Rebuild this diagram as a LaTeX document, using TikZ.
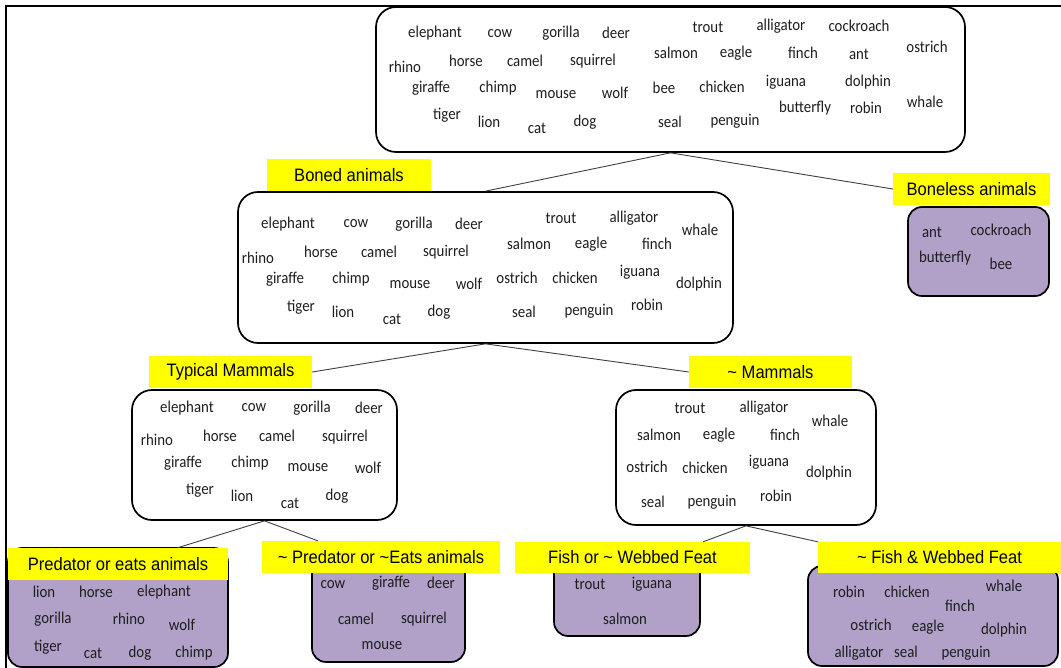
\documentclass[tikz,border=0pt]{standalone}
\usepackage{fontspec}
\setmainfont{Carlito}
\newfontfamily\wordfont[FakeStretch=0.9]{Carlito}
\newfontfamily\labfont[FakeStretch=0.92]{Liberation Sans}
\usetikzlibrary{calc}
\definecolor{tagyellow}{HTML}{FFFF00}
\definecolor{leafpurple}{HTML}{B1A0C7}
\definecolor{wordgrey}{HTML}{1E1E1E}
\newcommand\wordset[2]{%
  \foreach \x/\y/\w in {#2} {\node[word] (#1-\w) at (\x,\y) {\w};}}
\begin{document}
\begin{tikzpicture}[x=1pt,y=-1pt,
  word/.style={inner sep=0pt,text=wordgrey,font=\wordfont\fontsize{16.5}{19}\selectfont},
  group/.style={draw=black,line width=1.7pt,rounded corners=20pt,inner sep=0pt,fill=white},
  leaf/.style={draw=black,line width=1.7pt,rounded corners=14pt,inner sep=0pt,fill=leafpurple},
  tag/.style={fill=tagyellow,inner sep=0pt,minimum height=32pt,text=black,
    font=\labfont\fontsize{18}{21}\selectfont},
  link/.style={draw=black!75,line width=0.9pt}]
\useasboundingbox (0,0) rectangle (1061,668);
\fill[white] (0,0) rectangle (1061,668);
% outer frame, top and left edges only
\draw[line width=2pt] (6,668) -- (6,6) -- (1061,6);

% ---- group boxes ----
\node[group,minimum width=589pt,minimum height=145pt] (all) at (670.5,79.5) {};
\node[group,minimum width=495pt,minimum height=151pt] (boned) at (485.5,267.5) {};
\node[leaf,minimum width=141pt,minimum height=89pt] (boneless) at (978.5,251.5) {};
\node[group,minimum width=265pt,minimum height=130pt] (typ) at (264.5,455) {};
\node[group,minimum width=260pt,minimum height=135pt] (nm) at (746,457.5) {};
\node[leaf,minimum width=220pt,minimum height=119pt] (pred) at (118,607.5) {};
\node[leaf,minimum width=153pt,minimum height=102pt] (npred) at (388.5,611) {};
\node[leaf,minimum width=146pt,minimum height=76pt] (fish) at (627,598) {};
\node[leaf,minimum width=250pt,minimum height=100pt] (nfish) at (933,616) {};

% ---- yellow tags ----
\node[tag,minimum width=164pt] (bonedTag) at (349,175) {Boned animals};
\node[tag,minimum width=157pt] (bonelessTag) at (971.5,189) {Boneless animals};
\node[tag,minimum width=163pt] (typTag) at (230.5,372) {Typical Mammals};
\node[tag,minimum width=163pt] (nmTag) at (770.5,372) {\textasciitilde{} Mammals};
\node[tag,minimum width=220pt] (predTag) at (118,564) {Predator or eats animals};
\node[tag,minimum width=238pt] (npredTag) at (381,557) {\textasciitilde{} Predator or \textasciitilde Eats animals};
\node[tag,minimum width=235pt,minimum height=31pt] (fishTag) at (632.5,557.5) {Fish or \textasciitilde{} Webbed Feat};
\node[tag,minimum width=243pt,minimum height=31pt] (nfishTag) at (939.5,557.5) {\textasciitilde{} Fish \& Webbed Feat};

% ---- connectors ----
\draw[link] (all.south) -- (boned.north);
\draw[link] (all.south) -- (bonelessTag.west);
\draw[link] (boned.south) -- (typTag.east);
\draw[link] (boned.south) -- (nmTag.west);
\draw[link] (typ.south) -- ($(predTag.north west)!0.77!(predTag.north east)$);
\draw[link] (typ.south) -- ($(npredTag.north west)!0.235!(npredTag.north east)$);
\draw[link] (nm.south) -- ($(fishTag.north west)!0.8!(fishTag.north east)$);
\draw[link] (nm.south) -- (nfishTag.north west);

% ---- animal names ----
\wordset{all}{435/33/elephant, 500/34/cow, 561/33/gorilla, 616/33/deer,
  708/27/trout, 781/26/alligator, 859/26/cockroach, 927/47/ostrich,
  405/67/rhino, 466/61/horse, 525/61/camel, 593/61/squirrel,
  676/53/salmon, 736/53/eagle, 803/53/finch, 859/54/ant,
  431/88/giraffe, 498/88/chimp, 556/95/mouse, 615/93/wolf,
  664/88/bee, 722/87/chicken, 786/82/iguana, 868/82/dolphin,
  447/115/tiger, 489/122/lion, 537/128/cat, 585/122/dog,
  670/122/seal, 735/121/penguin, 805/108/butterfly, 866/108/robin, 925/102/whale}

\wordset{boned}{288/224/elephant, 356/224/cow, 414/224/gorilla, 469/224/deer,
  561/218/trout, 634/218/alligator, 700/230/whale,
  258/258/rhino, 321/252/horse, 379/252/camel, 446/252/squirrel,
  529/244/salmon, 591/244/eagle, 657/244/finch,
  285/279/giraffe, 351/279/chimp, 410/285/mouse, 469/284/wolf,
  517/278/ostrich, 575/278/chicken, 640/272/iguana, 699/284/dolphin,
  301/307/tiger, 343/312/lion, 392/319/cat, 439/312/dog,
  524/312/seal, 589/311/penguin, 647/305/robin}

\wordset{boneless}{932/232/ant, 1001/230/cockroach, 945/258/butterfly, 1001/264/bee}

\wordset{typ}{187/408/elephant, 254/408/cow, 312/408/gorilla, 369/408/deer,
  157/440/rhino, 220/436/horse, 277/436/camel, 345/437/squirrel,
  183/463/giraffe, 250/463/chimp, 308/468/mouse, 368/468/wolf,
  200/490/tiger, 242/496/lion, 290/503/cat, 337/496/dog}

\wordset{nm}{690/408/trout, 764/408/alligator, 830/421/whale,
  659/435/salmon, 719/435/eagle, 785/435/finch,
  647/467/ostrich, 705/468/chicken, 769/462/iguana, 829/473/dolphin,
  653/502/seal, 712/502/penguin, 776/496/robin}

\wordset{pred}{44/592/lion, 96/592/horse, 164/592/elephant,
  53/619/gorilla, 129/619/rhino, 182/625/wolf,
  48/647/tiger, 93/653/cat, 140/653/dog, 194/653/chimp}

\wordset{npred}{333/585/cow, 391/583/giraffe, 441/583/deer,
  356/619/camel, 424/619/squirrel, 382/646/mouse}

\wordset{fish}{590/584/trout, 652/584/iguana, 625/619/salmon}

\wordset{nfish}{849/592/robin, 907/592/chicken, 1004/586/whale, 960/606/finch,
  871/625/ostrich, 928/627/eagle, 1004/630/dolphin,
  859/653/alligator, 906/652/seal, 966/653/penguin}
\end{tikzpicture}
\end{document}
